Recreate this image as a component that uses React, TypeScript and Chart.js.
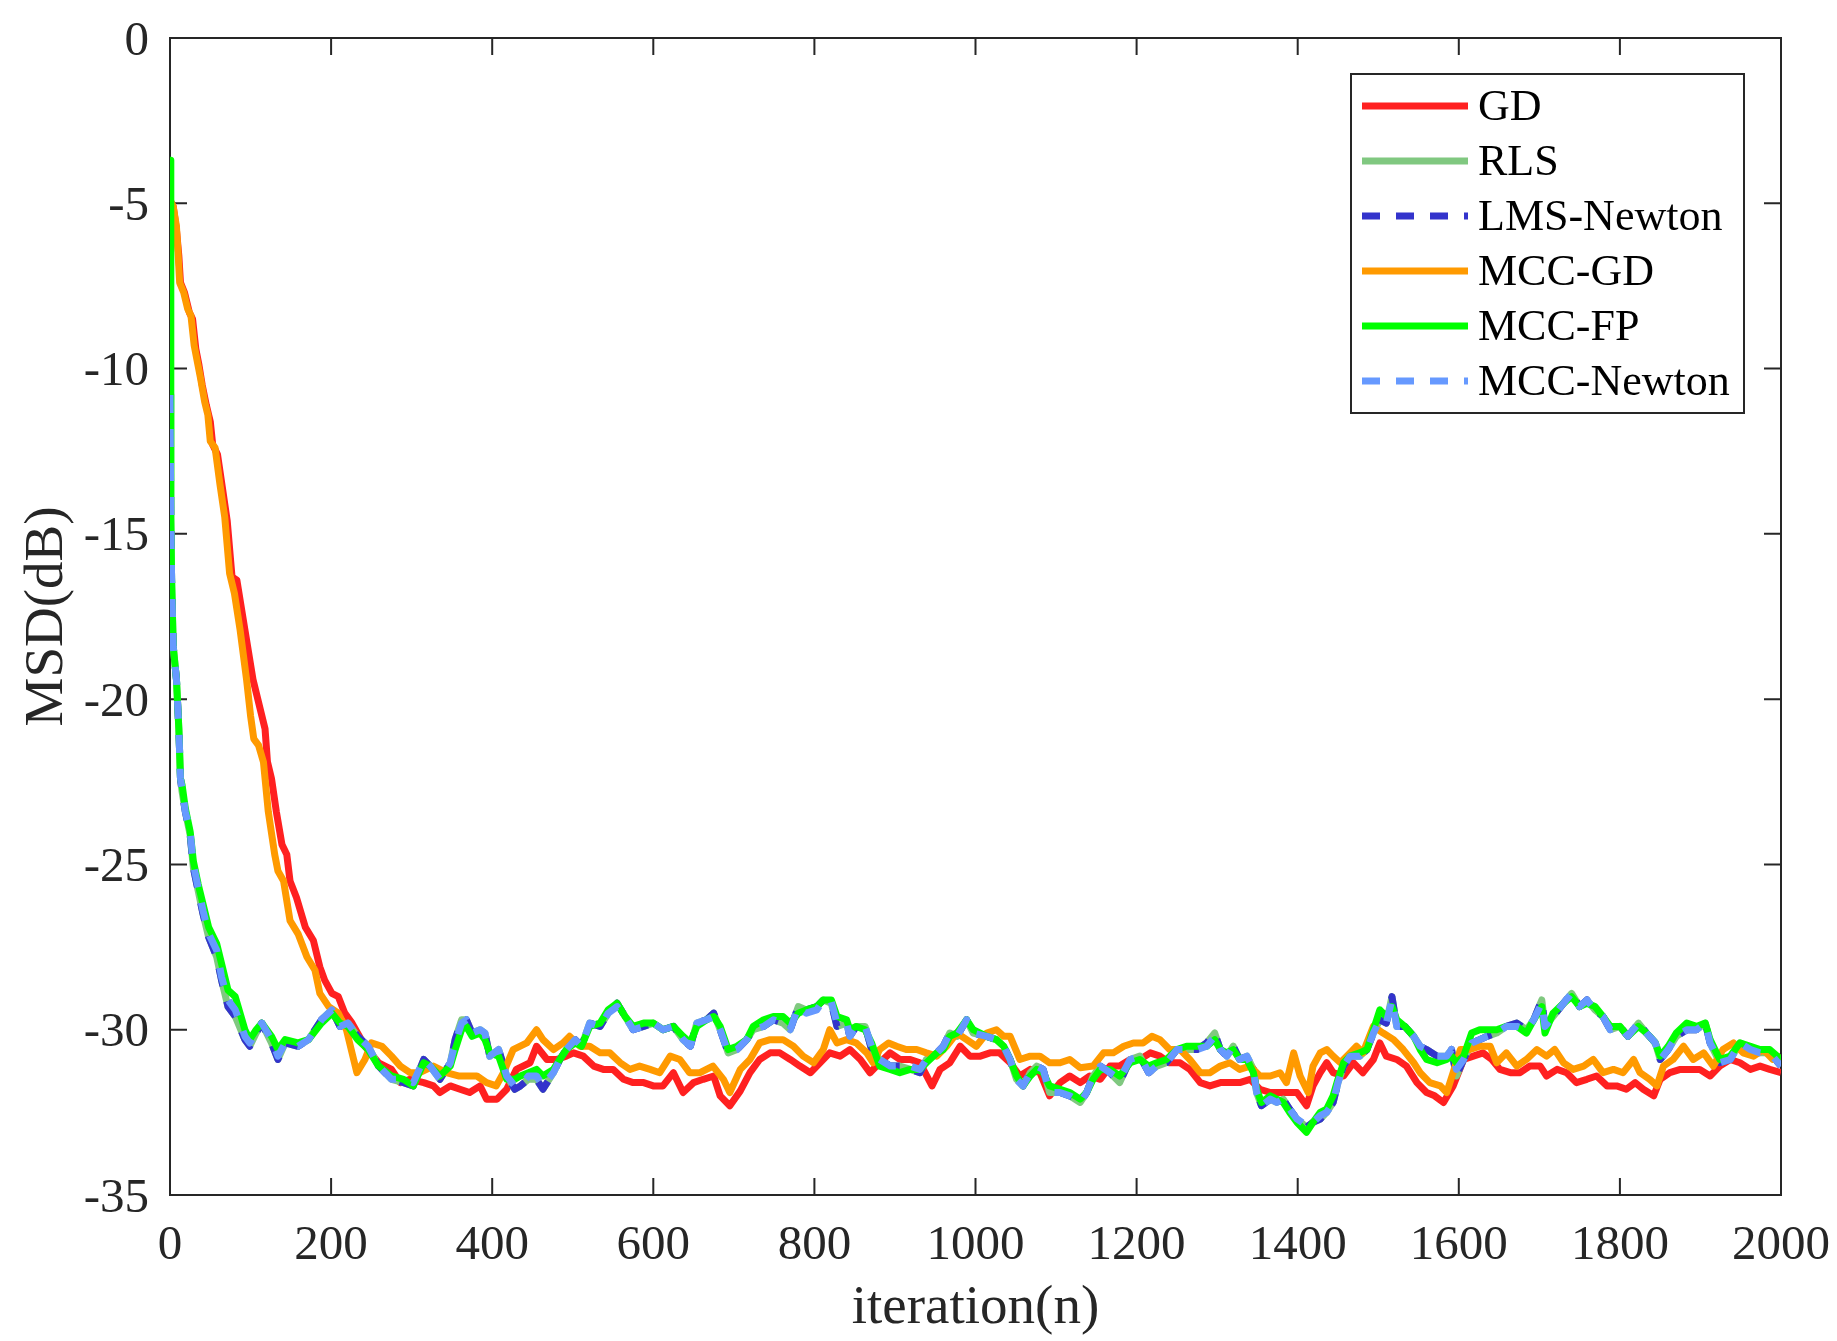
import React, { useEffect, useRef } from 'react';
import { Chart, registerables } from 'chart.js';

Chart.register(...registerables);

const FONT = '"Liberation Serif", "Times New Roman", serif';
const AXIS_COLOR = '#262626';

// axis ticks
const xTicks = [0, 200, 400, 600, 800, 1000, 1200, 1400, 1600, 1800, 2000];
const yTicks = [-35, -30, -25, -20, -15, -10, -5, 0];
const xTitle = 'iteration(n)';
const yTitle = 'MSD(dB)';

// legend / series order
const seriesNames = ['GD', 'RLS', 'LMS-Newton', 'MCC-GD', 'MCC-FP', 'MCC-Newton'];

// GD: [iteration, MSD dB]
const gdPoints: [number, number][] = [
  [0, -4.9], [4, -5.1], [8, -5.8], [11, -6.6], [13, -7.4], [18, -7.7], [24, -8.3], [28, -8.5],
  [32, -9.4], [36, -9.9], [40, -10.5], [45, -11.1], [50, -11.6], [53, -12.3], [59, -12.6], [65, -13.6],
  [71, -14.6], [77, -16.3], [83, -16.4], [93, -17.9], [103, -19.4], [112, -20.3], [118, -20.9], [121, -21.9],
  [126, -22.4], [132, -23.4], [139, -24.4], [145, -24.7], [149, -25.5], [157, -26.0], [168, -26.9], [178, -27.3],
  [186, -28.1], [192, -28.5], [201, -28.9], [209, -29.0], [217, -29.5], [226, -29.8], [242, -30.5], [259, -31.0],
  [275, -31.2], [286, -31.6], [298, -31.5], [315, -31.6], [327, -31.7], [335, -31.9], [348, -31.7], [360, -31.8],
  [372, -31.9], [385, -31.7], [393, -32.1], [406, -32.1], [418, -31.8], [430, -31.2], [447, -31.0], [455, -30.5],
  [468, -30.9], [480, -30.9], [492, -30.8], [501, -30.7], [513, -30.8], [526, -31.1], [538, -31.2], [550, -31.2],
  [563, -31.5], [575, -31.6], [588, -31.6], [600, -31.7], [612, -31.7], [625, -31.3], [637, -31.9], [650, -31.6],
  [662, -31.5], [675, -31.4], [683, -32.0], [695, -32.3], [708, -31.85], [720, -31.3], [732, -30.9], [745, -30.7],
  [757, -30.7], [770, -30.9], [782, -31.1], [795, -31.3], [807, -31.0], [819, -30.7], [832, -30.8], [844, -30.6],
  [857, -30.9], [869, -31.3], [881, -31.0], [894, -30.7], [906, -30.9], [919, -30.9], [931, -31.0], [946, -31.7],
  [956, -31.2], [968, -31.0], [981, -30.5], [993, -30.8], [1006, -30.8], [1018, -30.7], [1030, -30.7], [1043, -31.0],
  [1055, -31.4], [1068, -31.2], [1080, -31.3], [1092, -32.0], [1105, -31.6], [1117, -31.4], [1130, -31.6], [1142, -31.4],
  [1155, -31.5], [1167, -31.1], [1179, -31.1], [1192, -30.9], [1204, -30.9], [1217, -30.7], [1229, -30.8], [1241, -31.0],
  [1254, -31.0], [1266, -31.2], [1279, -31.6], [1291, -31.7], [1304, -31.6], [1316, -31.6], [1328, -31.6], [1341, -31.5],
  [1353, -31.8], [1366, -31.9], [1378, -31.9], [1388, -31.9], [1399, -31.9], [1411, -32.3], [1419, -31.7], [1428, -31.3],
  [1436, -31.0], [1444, -31.3], [1457, -31.4], [1469, -31.0], [1481, -31.3], [1494, -30.9], [1502, -30.4], [1510, -30.8],
  [1523, -30.9], [1535, -31.1], [1548, -31.6], [1560, -31.9], [1570, -32.0], [1581, -32.2], [1593, -31.7], [1606, -30.9],
  [1618, -30.8], [1630, -30.7], [1641, -30.9], [1651, -31.2], [1664, -31.3], [1676, -31.3], [1688, -31.1], [1701, -31.1],
  [1709, -31.4], [1722, -31.2], [1734, -31.3], [1746, -31.6], [1759, -31.5], [1771, -31.4], [1784, -31.7], [1796, -31.7],
  [1808, -31.8], [1819, -31.6], [1829, -31.8], [1842, -32.0], [1850, -31.5], [1862, -31.3], [1875, -31.2], [1887, -31.2],
  [1899, -31.2], [1912, -31.4], [1924, -31.1], [1937, -30.9], [1949, -31.0], [1962, -31.2], [1974, -31.1], [1986, -31.2],
  [2000, -31.3],
];

// MCC-GD: [iteration, MSD dB]
const mccGdPoints: [number, number][] = [
  [0, -4.9], [4, -5.1], [8, -5.7], [10, -6.5], [12, -7.4], [17, -7.7], [22, -8.2], [26, -8.4],
  [30, -9.3], [34, -9.8], [38, -10.3], [43, -11.0], [47, -11.4], [50, -12.2], [56, -12.4], [62, -13.5],
  [68, -14.5], [74, -16.2], [80, -16.8], [87, -17.9], [95, -19.4], [100, -20.5], [104, -21.2], [110, -21.4],
  [116, -21.9], [122, -23.4], [130, -24.7], [134, -25.2], [141, -25.5], [149, -26.7], [159, -27.1], [170, -27.8],
  [180, -28.2], [186, -28.9], [197, -29.3], [209, -29.5], [219, -30.0], [228, -30.9], [232, -31.3], [242, -30.9],
  [250, -30.4], [263, -30.5], [275, -30.8], [286, -31.1], [298, -31.3], [310, -31.3], [327, -31.1], [335, -31.2],
  [343, -31.3], [358, -31.4], [368, -31.4], [381, -31.4], [393, -31.6], [405, -31.7], [414, -31.3], [426, -30.6],
  [443, -30.4], [455, -30.0], [463, -30.3], [476, -30.6], [488, -30.4], [496, -30.2], [509, -30.5], [521, -30.5],
  [534, -30.7], [546, -30.7], [559, -31.0], [571, -31.2], [583, -31.1], [596, -31.2], [608, -31.3], [621, -30.8],
  [633, -30.9], [645, -31.3], [658, -31.3], [674, -31.1], [687, -31.5], [695, -31.9], [708, -31.2], [720, -30.9],
  [732, -30.4], [745, -30.3], [761, -30.3], [774, -30.5], [786, -30.8], [799, -31.0], [811, -30.6], [819, -30.0],
  [828, -30.4], [840, -30.3], [852, -30.4], [865, -30.7], [873, -31.0], [881, -30.6], [892, -30.4], [902, -30.5],
  [914, -30.6], [927, -30.6], [939, -30.7], [952, -30.8], [964, -30.5], [977, -30.1], [989, -30.3], [1001, -30.5],
  [1014, -30.1], [1026, -30.0], [1035, -30.2], [1043, -30.2], [1055, -30.9], [1068, -30.8], [1080, -30.8], [1092, -31.0],
  [1105, -31.0], [1117, -30.9], [1130, -31.15], [1146, -31.1], [1159, -30.7], [1171, -30.7], [1184, -30.5], [1196, -30.4],
  [1208, -30.4], [1219, -30.2], [1229, -30.3], [1241, -30.6], [1254, -30.6], [1266, -30.9], [1279, -31.3], [1291, -31.3],
  [1304, -31.1], [1316, -31.0], [1328, -31.2], [1341, -31.1], [1353, -31.4], [1366, -31.4], [1378, -31.3], [1386, -31.6],
  [1395, -30.7], [1403, -31.4], [1413, -31.9], [1419, -31.1], [1428, -30.7], [1436, -30.6], [1444, -30.8], [1453, -31.0],
  [1465, -30.7], [1473, -30.5], [1481, -30.7], [1494, -29.9], [1506, -30.1], [1519, -30.3], [1531, -30.6], [1544, -31.0],
  [1552, -31.3], [1564, -31.6], [1577, -31.7], [1585, -31.9], [1593, -31.3], [1602, -30.6], [1614, -30.6], [1626, -30.5],
  [1639, -30.5], [1647, -31.0], [1659, -30.7], [1672, -31.1], [1684, -30.9], [1697, -30.6], [1709, -30.8], [1719, -30.6],
  [1730, -31.0], [1742, -31.2], [1755, -31.1], [1767, -30.9], [1779, -31.3], [1792, -31.2], [1804, -31.3], [1817, -30.9],
  [1825, -31.3], [1837, -31.5], [1846, -31.7], [1854, -31.1], [1866, -30.9], [1879, -30.5], [1891, -30.9], [1904, -30.7],
  [1916, -31.1], [1928, -30.6], [1941, -30.4], [1953, -30.7], [1966, -30.8], [1978, -30.6], [1990, -30.9], [2000, -30.8],
];

// fast converging group shares one iteration grid
const fastIter = [
  0, 1, 2, 4, 8, 11, 13, 15, 19, 25, 29, 35, 41, 48, 58, 64, 72, 81, 93, 99,
  107, 114, 126, 134, 143, 159, 172, 188, 201, 211, 221, 233, 246, 259, 275, 290, 302, 315, 323, 335,
  348, 354, 362, 368, 375, 385, 391, 397, 408, 418, 428, 435, 445, 455, 463, 476, 484, 492, 503, 511,
  521, 534, 544, 555, 565, 575, 588, 600, 612, 625, 637, 646, 654, 666, 675, 683, 693, 704, 716, 724,
  737, 749, 761, 770, 780, 790, 803, 811, 821, 828, 840, 844, 852, 863, 871, 881, 894, 906, 919, 931,
  939, 952, 960, 968, 977, 989, 997, 1014, 1026, 1035, 1043, 1051, 1059, 1068, 1076, 1084, 1092, 1105, 1117, 1130,
  1138, 1146, 1155, 1167, 1179, 1192, 1204, 1215, 1225, 1237, 1250, 1262, 1275, 1287, 1297, 1304, 1312, 1320, 1328, 1337,
  1345, 1349, 1355, 1366, 1374, 1382, 1390, 1399, 1411, 1419, 1428, 1436, 1444, 1450, 1457, 1465, 1477, 1486, 1494, 1502,
  1510, 1517, 1523, 1533, 1544, 1552, 1560, 1573, 1585, 1591, 1597, 1606, 1616, 1626, 1635, 1647, 1659, 1672, 1684, 1693,
  1703, 1707, 1717, 1730, 1740, 1750, 1759, 1769, 1779, 1788, 1800, 1810, 1823, 1833, 1844, 1850, 1860, 1870, 1883, 1895,
  1906, 1912, 1924, 1937, 1949, 1962, 1974, 1986, 2000,
];

const mccNewtonMsd = [
  -10.8, -14.5, -16.4, -18.4, -19.4, -20.9, -22.4, -22.7, -23.4, -24.0, -25.0, -25.7, -26.4, -27.1, -27.6, -28.4, -29.1, -29.4, -30.2, -30.4,
  -30.1, -29.8, -30.3, -30.8, -30.4, -30.5, -30.3, -29.7, -29.4, -29.9, -29.8, -30.2, -30.5, -31.1, -31.5, -31.5, -31.6, -30.9, -31.1, -31.5,
  -31.0, -30.4, -29.8, -29.7, -30.1, -30.0, -30.1, -30.8, -30.6, -31.4, -31.7, -31.7, -31.4, -31.4, -31.7, -31.3, -30.9, -30.6, -30.3, -30.5,
  -29.8, -29.9, -29.5, -29.3, -29.6, -30.0, -29.9, -29.8, -30.0, -29.9, -30.3, -30.5, -29.8, -29.7, -29.6, -30.0, -30.7, -30.6, -30.3, -30.0,
  -29.9, -29.7, -29.8, -30.0, -29.3, -29.5, -29.4, -29.1, -29.15, -29.8, -29.8, -30.2, -29.9, -29.9, -30.5, -30.9, -31.1, -31.1, -31.1, -31.2,
  -30.9, -30.7, -30.5, -30.1, -30.2, -29.7, -30.1, -30.2, -30.3, -30.5, -30.9, -31.5, -31.7, -31.3, -31.1, -31.2, -31.9, -31.9, -32.0, -32.2,
  -31.9, -31.4, -31.1, -31.3, -31.5, -30.9, -30.8, -31.3, -31.1, -31.0, -30.6, -30.6, -30.6, -30.5, -30.2, -30.6, -30.8, -30.5, -30.9, -30.8,
  -31.2, -31.9, -32.3, -32.1, -32.2, -32.1, -32.4, -32.7, -32.9, -32.8, -32.6, -32.5, -32.2, -31.6, -31.1, -30.8, -30.8, -30.6, -30.1, -29.7,
  -29.8, -29.1, -29.9, -29.9, -30.2, -30.5, -30.6, -30.8, -30.8, -30.6, -31.2, -30.9, -30.4, -30.3, -30.2, -30.1, -29.9, -29.9, -30.0, -29.7,
  -29.2, -29.9, -29.6, -29.2, -28.9, -29.3, -29.1, -29.4, -29.6, -30.0, -29.9, -30.2, -29.8, -30.1, -30.4, -30.9, -30.6, -30.2, -30.0, -30.0,
  -29.8, -30.4, -31.0, -30.9, -30.4, -30.6, -30.7, -30.7, -31.1,
];

const mccFpMsd = [
  -3.7, -14.5, -16.4, -18.4, -19.4, -20.9, -22.4, -22.6, -23.3, -24.0, -24.9, -25.6, -26.2, -26.9, -27.4, -28.0, -28.8, -29.0, -30.0, -30.3,
  -30.0, -29.8, -30.2, -30.6, -30.3, -30.4, -30.3, -29.8, -29.5, -29.8, -29.9, -30.3, -30.6, -31.1, -31.4, -31.5, -31.7, -31.0, -31.1, -31.4,
  -31.1, -30.6, -30.0, -29.9, -30.2, -30.1, -30.3, -30.7, -30.8, -31.5, -31.5, -31.4, -31.3, -31.2, -31.4, -31.2, -30.9, -30.6, -30.4, -30.5,
  -29.9, -29.8, -29.4, -29.2, -29.6, -29.9, -29.8, -29.8, -30.0, -29.9, -30.2, -30.4, -29.9, -29.7, -29.6, -29.9, -30.6, -30.5, -30.3, -29.9,
  -29.7, -29.6, -29.6, -29.8, -29.5, -29.4, -29.3, -29.1, -29.1, -29.6, -29.7, -30.0, -29.9, -30.0, -30.4, -31.1, -31.2, -31.3, -31.2, -31.2,
  -31.0, -30.7, -30.6, -30.2, -30.1, -29.7, -30.0, -30.2, -30.3, -30.5, -30.9, -31.4, -31.7, -31.4, -31.2, -31.3, -31.7, -31.8, -31.9, -32.1,
  -31.9, -31.5, -31.2, -31.2, -31.4, -31.0, -30.9, -31.1, -31.0, -30.9, -30.6, -30.5, -30.5, -30.5, -30.3, -30.6, -30.7, -30.6, -30.9, -30.9,
  -31.3, -31.8, -32.2, -32.0, -32.1, -32.2, -32.5, -32.8, -33.1, -32.8, -32.5, -32.4, -32.0, -31.5, -31.0, -30.8, -30.7, -30.6, -30.0, -29.4,
  -29.6, -29.3, -29.7, -29.9, -30.2, -30.6, -30.9, -31.0, -30.9, -30.8, -31.0, -30.8, -30.1, -30.0, -30.0, -30.0, -29.9, -29.9, -30.1, -29.7,
  -29.3, -30.1, -29.5, -29.2, -29.0, -29.3, -29.2, -29.3, -29.6, -29.9, -29.9, -30.2, -29.9, -30.1, -30.4, -30.8, -30.5, -30.1, -29.8, -29.9,
  -29.8, -30.3, -30.9, -30.8, -30.4, -30.5, -30.6, -30.6, -30.9,
];

const lmsNewtonMsd = [
  -10.8, -14.5, -16.4, -18.4, -19.4, -20.9, -22.4, -22.8, -23.4, -24.1, -25.1, -25.8, -26.5, -27.2, -27.8, -28.5, -29.3, -29.6, -30.3, -30.5,
  -30.1, -29.8, -30.4, -30.9, -30.4, -30.5, -30.3, -29.7, -29.4, -29.9, -29.8, -30.2, -30.5, -31.1, -31.5, -31.6, -31.7, -30.9, -31.1, -31.5,
  -31.0, -30.3, -29.7, -29.7, -30.1, -30.0, -30.1, -30.8, -30.6, -31.4, -31.8, -31.7, -31.5, -31.5, -31.8, -31.3, -30.9, -30.6, -30.3, -30.5,
  -29.8, -29.9, -29.5, -29.2, -29.6, -30.0, -29.9, -29.8, -30.0, -29.9, -30.3, -30.5, -29.8, -29.7, -29.5, -30.0, -30.7, -30.6, -30.3, -30.0,
  -29.9, -29.7, -29.8, -30.0, -29.3, -29.4, -29.3, -29.1, -29.2, -29.9, -29.8, -30.2, -29.9, -29.9, -30.6, -30.9, -31.1, -31.1, -31.2, -31.3,
  -30.9, -30.7, -30.5, -30.1, -30.2, -29.7, -30.1, -30.2, -30.3, -30.5, -30.9, -31.5, -31.7, -31.3, -31.1, -31.2, -31.9, -31.9, -32.0, -32.2,
  -31.9, -31.4, -31.1, -31.3, -31.6, -30.9, -30.8, -31.3, -31.1, -31.0, -30.6, -30.6, -30.6, -30.4, -30.1, -30.6, -30.8, -30.5, -30.9, -30.8,
  -31.2, -31.9, -32.3, -32.1, -32.2, -32.1, -32.4, -32.7, -32.95, -32.8, -32.7, -32.5, -32.2, -31.6, -31.1, -30.8, -30.8, -30.6, -30.1, -29.7,
  -29.8, -29.0, -29.9, -29.9, -30.2, -30.5, -30.6, -30.8, -30.8, -30.6, -31.4, -30.9, -30.4, -30.3, -30.2, -30.1, -29.9, -29.8, -30.0, -29.7,
  -29.1, -29.9, -29.6, -29.2, -28.9, -29.3, -29.1, -29.4, -29.6, -30.0, -29.9, -30.2, -29.8, -30.1, -30.4, -30.9, -30.6, -30.2, -30.0, -30.0,
  -29.8, -30.4, -31.0, -30.9, -30.4, -30.6, -30.7, -30.7, -31.1,
];

// RLS lies completely under LMS-Newton in the figure
const rlsMsd = lmsNewtonMsd;

const pairsToXY = (pairs: [number, number][]) => pairs.map(([x, y]) => ({ x, y }));
const zipXY = (xs: number[], ys: number[]) => xs.map((x, i) => ({ x, y: ys[i] }));

// inward MATLAB-style ticks, box, tick labels and axis titles
const axesFrame = {
  id: 'axesFrame',
  beforeDatasetsDraw(chart: any) {
    const { ctx, chartArea, scales } = chart;
    const { left, right, top, bottom } = chartArea;
    const len = 17;
    ctx.save();
    ctx.strokeStyle = AXIS_COLOR;
    ctx.lineWidth = 2;
    ctx.beginPath();
    xTicks.forEach((v) => {
      const px = scales.x.getPixelForValue(v);
      ctx.moveTo(px, bottom);
      ctx.lineTo(px, bottom - len);
      ctx.moveTo(px, top);
      ctx.lineTo(px, top + len);
    });
    yTicks.forEach((v) => {
      const py = scales.y.getPixelForValue(v);
      ctx.moveTo(left, py);
      ctx.lineTo(left + len, py);
      ctx.moveTo(right, py);
      ctx.lineTo(right - len, py);
    });
    ctx.stroke();
    ctx.strokeRect(left, top, right - left, bottom - top);

    ctx.fillStyle = AXIS_COLOR;
    ctx.font = `49px ${FONT}`;
    ctx.textBaseline = 'alphabetic';
    ctx.textAlign = 'center';
    xTicks.forEach((v) => {
      ctx.fillText(String(v), scales.x.getPixelForValue(v), bottom + 64);
    });
    ctx.textAlign = 'right';
    yTicks.forEach((v) => {
      ctx.fillText(String(v), left - 21, scales.y.getPixelForValue(v) + 16.5);
    });

    ctx.font = `55px ${FONT}`;
    ctx.textAlign = 'center';
    ctx.fillText(xTitle, (left + right) / 2, bottom + 128);
    ctx.translate(62, (top + bottom) / 2);
    ctx.rotate(-Math.PI / 2);
    ctx.fillText(yTitle, 0, 0);
    ctx.restore();
  },
};

const legendBox = {
  id: 'insideLegend',
  afterDraw(chart: any) {
    const { ctx, chartArea } = chart;
    const left = chartArea.right - 430;
    const top = chartArea.top + 36;
    const w = 393;
    const h = 339;
    ctx.save();
    ctx.fillStyle = '#ffffff';
    ctx.fillRect(left, top, w, h);
    ctx.strokeStyle = AXIS_COLOR;
    ctx.lineWidth = 2;
    ctx.strokeRect(left, top, w, h);
    ctx.font = `44px ${FONT}`;
    ctx.textBaseline = 'middle';
    ctx.textAlign = 'left';
    seriesNames.forEach((name, i) => {
      const ds = chart.data.datasets.find((d: any) => d.label === name);
      const yy = top + 32 + i * 55;
      ctx.strokeStyle = ds.borderColor;
      ctx.lineWidth = 7;
      ctx.setLineDash(ds.borderDash || []);
      ctx.beginPath();
      ctx.moveTo(left + 11, yy);
      ctx.lineTo(left + 117, yy);
      ctx.stroke();
      ctx.setLineDash([]);
      ctx.fillStyle = '#000000';
      ctx.fillText(name, left + 127, yy + 2);
    });
    ctx.restore();
  },
};

const App: React.FC = () => {
  const canvasRef = useRef<HTMLCanvasElement>(null);
  const chartRef = useRef<Chart | null>(null);

  useEffect(() => {
    document.body.style.margin = '0';
    if (chartRef.current) {
      chartRef.current.destroy();
    }
    if (!canvasRef.current) return;

    const line = (label: string, data: { x: number; y: number }[], color: string, dashed: boolean, order: number) => ({
      label,
      data,
      borderColor: color,
      backgroundColor: color,
      borderWidth: 7,
      borderDash: dashed ? [18, 16] : [],
      borderJoinStyle: 'round' as const,
      pointRadius: 0,
      tension: 0,
      fill: false,
      order,
    });

    chartRef.current = new Chart(canvasRef.current, {
      type: 'line',
      data: {
        datasets: [
          line('GD', pairsToXY(gdPoints), '#ff2020', false, 6),
          line('RLS', zipXY(fastIter, rlsMsd), '#80c880', false, 5),
          line('LMS-Newton', zipXY(fastIter, lmsNewtonMsd), '#3333cc', true, 4),
          line('MCC-GD', pairsToXY(mccGdPoints), '#ff9a00', false, 3),
          line('MCC-FP', zipXY(fastIter, mccFpMsd), '#00ff00', false, 2),
          line('MCC-Newton', zipXY(fastIter, mccNewtonMsd), '#6699ff', true, 1),
        ] as any,
      },
      options: {
        animation: false,
        responsive: true,
        maintainAspectRatio: false,
        layout: { autoPadding: false, padding: { left: 0, top: 38, right: 56, bottom: 0 } },
        plugins: {
          legend: { display: false },
          tooltip: { enabled: false },
        },
        scales: {
          x: {
            type: 'linear',
            min: 0,
            max: 2000,
            grid: { display: false },
            border: { display: false },
            ticks: { display: false, stepSize: 200 },
            title: { display: false },
            afterFit: (s: any) => { s.height = 146; },
          },
          y: {
            type: 'linear',
            min: -35,
            max: 0,
            grid: { display: false },
            border: { display: false },
            ticks: { display: false, stepSize: 5 },
            title: { display: false },
            afterFit: (s: any) => { s.width = 170; },
          },
        },
      },
      plugins: [axesFrame, legendBox],
    });

    return () => {
      if (chartRef.current) {
        chartRef.current.destroy();
        chartRef.current = null;
      }
    };
  }, []);

  return (
    <div style={{ width: '1837px', height: '1341px', position: 'relative', background: '#ffffff' }}>
      <canvas ref={canvasRef} />
    </div>
  );
};

export default App;
